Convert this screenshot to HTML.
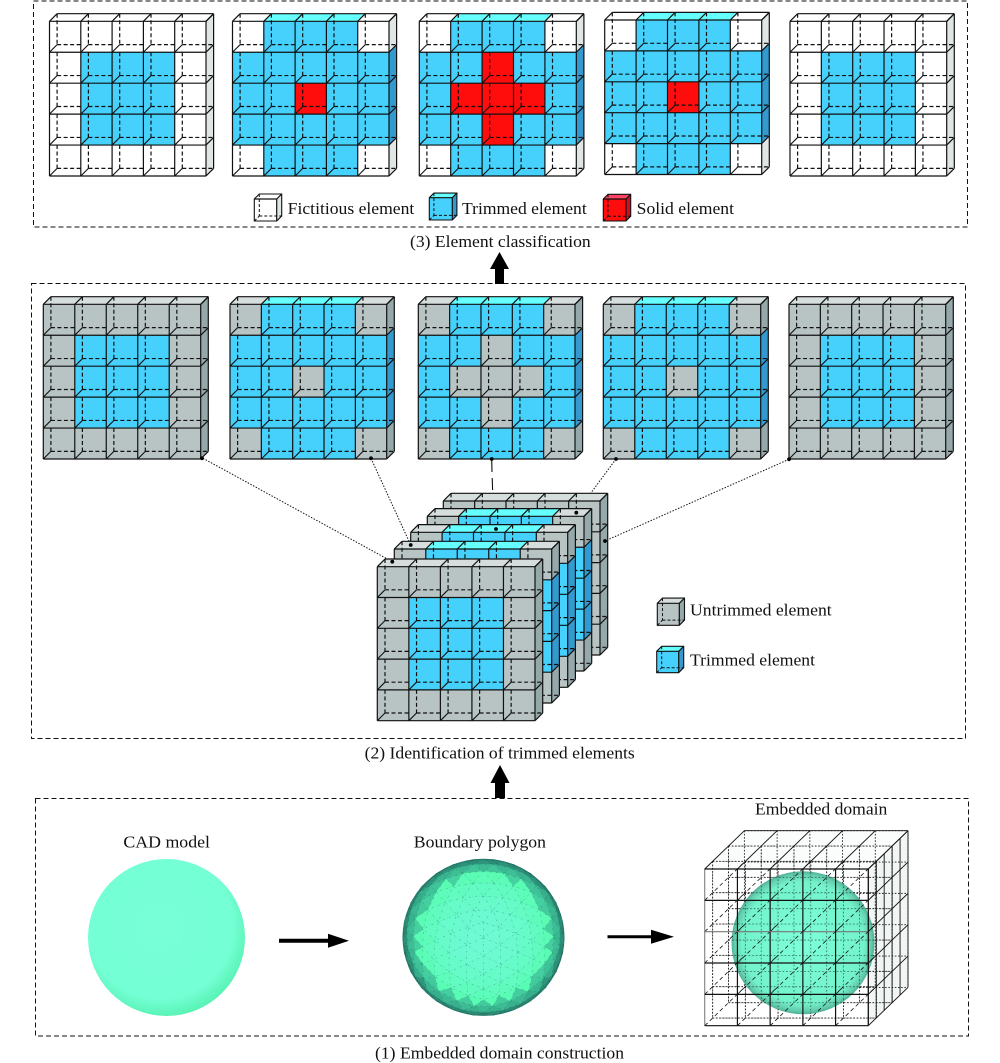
<!DOCTYPE html>
<html><head><meta charset="utf-8"><title>Diagram</title>
<style>
html,body{margin:0;padding:0;background:#fff}
svg{display:block}
text{font-family:"Liberation Serif",serif;font-size:16.5px;fill:#111}
</style></head><body>
<svg id="s" xmlns="http://www.w3.org/2000/svg" width="1000" height="1063" viewBox="0 0 1000 1063">
<defs>
<radialGradient id="cad" cx="46%" cy="43%" r="58%"><stop offset="0" stop-color="#78ffd8"/><stop offset=".8" stop-color="#74ffd4"/><stop offset="1" stop-color="#58f2b4"/></radialGradient>
<radialGradient id="emb" cx="50%" cy="50%" r="50%"><stop offset="0" stop-color="#76ffd8"/><stop offset=".85" stop-color="#6cf2c8"/><stop offset=".95" stop-color="#5ccdab"/><stop offset="1" stop-color="#47ad92"/></radialGradient>
</defs>
<rect width="1000" height="1063" fill="#fff"/>
<g fill="none" stroke="#111" stroke-width="1" stroke-dasharray="5 3">
<rect x="33.5" y="1" width="934" height="226"/>
<rect x="31.5" y="283.5" width="934" height="455"/>
<rect x="35.5" y="798.5" width="933" height="237.5"/>
</g>
<g id="grids"></g>
<g id="mesh"></g>
<ellipse cx="166.5" cy="937.5" rx="78.5" ry="78.5" fill="url(#cad)"/>
<g id="poly"></g>
<g id="embed"></g>
<g fill="#000">
<polygon points="499.5,252 509,269 504,269 504,284 495,284 495,269 490,269"/>
<polygon points="500,765 509.5,783 505,783 505,798 495,798 495,783 490.5,783"/>
<polygon points="279,938.7 328,938.7 328,933.7 349,940.7 328,947.7 328,942.7 279,942.7"/>
<polygon points="607.5,935.2 651,935.2 651,929.7 674,936.7 651,943.7 651,938.2 607.5,938.2"/>
</g>
<text x="287.7" y="214" textLength="126.6" lengthAdjust="spacingAndGlyphs">Fictitious element</text>
<text x="462" y="214" textLength="124.7" lengthAdjust="spacingAndGlyphs">Trimmed element</text>
<text x="636.7" y="214" textLength="97.3" lengthAdjust="spacingAndGlyphs">Solid element</text>
<text x="410" y="247" textLength="180.7" lengthAdjust="spacingAndGlyphs">(3) Element classification</text>
<text x="690" y="615.7" textLength="141.7" lengthAdjust="spacingAndGlyphs">Untrimmed element</text>
<text x="690" y="665.7" textLength="125" lengthAdjust="spacingAndGlyphs">Trimmed element</text>
<text x="364.6" y="758.3" textLength="270.2" lengthAdjust="spacingAndGlyphs">(2) Identification of trimmed elements</text>
<text x="123.4" y="847.3" textLength="86.6" lengthAdjust="spacingAndGlyphs">CAD model</text>
<text x="413.8" y="847.3" textLength="132.2" lengthAdjust="spacingAndGlyphs">Boundary polygon</text>
<text x="755" y="814.3" textLength="132.3" lengthAdjust="spacingAndGlyphs">Embedded domain</text>
<text x="375" y="1058.3" textLength="249" lengthAdjust="spacingAndGlyphs">(1) Embedded domain construction</text>
</svg>
<script>
(function(){
var NS="http://www.w3.org/2000/svg";
function el(p,n,a){var e=document.createElementNS(NS,n);for(var k in a)e.setAttribute(k,a[k]);p.appendChild(e);return e;}
function line(p,a,b,c,d,col,w,dash,op){var o={x1:a,y1:b,x2:c,y2:d,stroke:col||"#111","stroke-width":w||1.2};if(dash)o["stroke-dasharray"]=dash;if(op)o.opacity=op;el(p,"line",o);}
function poly(p,pts,fill){el(p,"polygon",{points:pts.map(function(q){return q[0].toFixed(1)+","+q[1].toFixed(1)}).join(" "),fill:fill});}
var C={w:{f:"#ffffff",t:"#ffffff",s:"#dfe6e5"},g:{f:"#b8c4c4",t:"#d5dedd",s:"#95a8aa"},b:{f:"#45d1fb",t:"#66ffff",s:"#3399cf"},r:{f:"#ff0d0d",t:"#ff4466",s:"#cc1122"}};
function grid(par,x0,y0,x1,y1,d,pat){
  var g=el(par,"g",{}),w=(x1-x0)/5,h=(y1-y0)/5,i,j;
  for(j=0;j<5;j++)for(i=0;i<5;i++){
    var c=C[pat[j][i]];
    var L=x0+i*w,T=y0+j*h;
    el(g,"rect",{x:L.toFixed(1),y:T.toFixed(1),width:(w+.4).toFixed(1),height:(h+.4).toFixed(1),fill:c.f});
  }
  for(i=0;i<5;i++){var L=x0+i*w;poly(g,[[L,y0],[L+d,y0-d],[L+w+d,y0-d],[L+w,y0]],C[pat[0][i]].t);}
  for(j=0;j<5;j++){var T=y0+j*h;poly(g,[[x1,T],[x1+d,T-d],[x1+d,T+h-d],[x1,T+h]],C[pat[j][4]].s);}
  for(j=0;j<5;j++)for(i=0;i<5;i++){
    var L=x0+i*w,T=y0+j*h;
    line(g,L+d,j==0?T-d:T,L+d,T+h-d,"#111",1.2,"4 2.5");
    line(g,L+d,T+h-d,i==4?L+w+d:L+w,T+h-d,"#111",1.2,"4 2.5");
    line(g,L,T+h,L+d,T+h-d,"#111",1.1);
  }
  for(i=0;i<=5;i++){var X=x0+i*w;line(g,X,y0,X,y1);line(g,X,y0,X+d,y0-d);}
  for(j=0;j<=5;j++){var Y=y0+j*h;line(g,x0,Y,x1,Y);line(g,x1,Y,x1+d,Y-d);}
  line(g,x0+d,y0-d,x1+d,y0-d);line(g,x1+d,y0-d,x1+d,y1-d);
}
function cube(par,x0,y0,x1,y1,d,k){
  var c=C[k],g=el(par,"g",{});
  poly(g,[[x0,y0],[x1,y0],[x1,y1],[x0,y1]],c.f);
  poly(g,[[x0,y0],[x0+d,y0-d],[x1+d,y0-d],[x1,y0]],c.t);
  poly(g,[[x1,y0],[x1+d,y0-d],[x1+d,y1-d],[x1,y1]],c.s);
  line(g,x0+d,y0-d,x0+d,y1-d,"#111",1,"3 2");line(g,x0+d,y1-d,x1+d,y1-d,"#111",1,"3 2");line(g,x0,y1,x0+d,y1-d,"#111",1,"3 2");
  el(g,"polygon",{points:[[x0,y0],[x0+d,y0-d],[x1+d,y0-d],[x1+d,y1-d],[x1,y1],[x0,y1]].join(" "),fill:"none",stroke:"#111","stroke-width":1.1});
  line(g,x0,y0,x1,y0);line(g,x1,y0,x1,y1);line(g,x1,y0,x1+d,y0-d);
}
var P1=["wwwww","wbbbw","wbbbw","wbbbw","wwwww"];
var P2=["wbbbw","bbbbb","bbrbb","bbbbb","wbbbw"];
var P3=["wbbbw","bbrbb","brrrb","bbrbb","wbbbw"];
function gr(p){return p.map(function(r){return r.replace(/w/g,"g").replace(/r/g,"g")});}
var G=document.getElementById("grids");
[[49.5,206],[232.5,389],[419.3,576.3],[604.7,761.7],[790,946.7]].forEach(function(x,i){
  var y=i==3?[20,174.5]:[21.3,176];
  grid(G,x[0],y[0],x[1],y[1],7.6,[P1,P2,P3,P2,P1][i]);
});
[[43.3,200.7],[230,386.7],[418.3,575],[603.3,760.7],[789,945.7]].forEach(function(x,i){
  grid(G,x[0],304.3,x[1],459,7.6,gr([P1,P2,P3,P2,P1][i]));
});
cube(G,254.3,199,276.7,221,5,"w");cube(G,429.3,197.7,452.3,220,4.6,"b");cube(G,603.3,199,626,221,4.7,"r");
cube(G,657.3,603.3,679.3,625.3,5.2,"g");cube(G,656.7,651.3,678.7,672.7,5,"b");
var M=document.getElementById("mesh");
[[203,458.3,392.3,561.7],[371,458.3,410.7,545],[616,459,576.3,512.7],[789,459.3,605,541]].forEach(function(a){line(M,a[0],a[1],a[2],a[3],"#111",1,"1.5 1.5");});
line(M,491.7,459,492,472,"#111",1.1);line(M,492.2,478,492.6,490,"#111",1.1);line(M,493.3,497,493.6,506,"#111",1.1);
[[443.3,501,600,655,1],[427.3,516.3,584,671,2],[410.7,532.3,567.7,687.3,3],[394.3,549,551.7,703,4],[377.3,566.7,535,720.7,5]].forEach(function(a){
  grid(M,a[0],a[1],a[2],a[3],7.7,gr([P1,P2,P3,P2,P1][a[4]-1]));
});
[[202,458.3],[371,458.3],[491.7,459],[616,459],[789,459.3],[392.3,561.7],[410.7,545],[496,529],[576.3,512.7],[605,541]].forEach(function(p){el(M,"circle",{cx:p[0],cy:p[1],r:1.9,fill:"#000"});});
var t=(1+Math.sqrt(5))/2;
var V=[[-1,t,0],[1,t,0],[-1,-t,0],[1,-t,0],[0,-1,t],[0,1,t],[0,-1,-t],[0,1,-t],[t,0,-1],[t,0,1],[-t,0,-1],[-t,0,1]];
var F=[[0,11,5],[0,5,1],[0,1,7],[0,7,10],[0,10,11],[1,5,9],[5,11,4],[11,10,2],[10,7,6],[7,1,8],[3,9,4],[3,4,2],[3,2,6],[3,6,8],[3,8,9],[4,9,5],[2,4,11],[6,2,10],[8,6,7],[9,8,1]];
function nrm(v){var l=Math.sqrt(v[0]*v[0]+v[1]*v[1]+v[2]*v[2]);return[v[0]/l,v[1]/l,v[2]/l];}
function rot(v){var a=.36;var x=v[0],y=v[1]*Math.cos(a)-v[2]*Math.sin(a),z=v[1]*Math.sin(a)+v[2]*Math.cos(a);return[x,y,z];}
var tris=[];
F.forEach(function(f){
  var A=nrm(V[f[0]]),B=nrm(V[f[1]]),Cc=nrm(V[f[2]]),n=5;
  function pt(i,j){var k=n-i-j;return nrm([A[0]*i+B[0]*j+Cc[0]*k,A[1]*i+B[1]*j+Cc[1]*k,A[2]*i+B[2]*j+Cc[2]*k]);}
  for(var i=0;i<n;i++)for(var j=0;j<n-i;j++){
    tris.push([pt(i,j),pt(i+1,j),pt(i,j+1)]);
    if(i+j<n-1)tris.push([pt(i+1,j),pt(i+1,j+1),pt(i,j+1)]);
  }
});
var PG=document.getElementById("poly");
el(PG,"ellipse",{cx:483.5,cy:937.3,rx:81,ry:78.6,fill:"#2a7f6c"});
function mix(a,b,t){return a.map(function(v,i){return Math.round(v+(b[i]-v)*t)});}
var items=tris.map(function(T){
  var p=T.map(rot),c=nrm([p[0][0]+p[1][0]+p[2][0],p[0][1]+p[1][1]+p[2][1],p[0][2]+p[1][2]+p[2][2]]);
  return{p:p,nz:c[2]};
}).filter(function(o){return o.nz>0}).sort(function(a,b){return a.nz-b.nz});
items.forEach(function(o){
  var z=o.nz,col;
  if(z>.57)col=mix([88,252,178],[110,250,212],(z-.57)/.43);
  else if(z>.3)col=mix([52,168,136],[70,210,162],(z-.3)/.27);
  else col=mix([32,110,95],[48,150,125],z/.3);
  var pts=o.p.map(function(q){return(483.5+q[0]*81).toFixed(1)+","+(937.3-q[1]*78.6).toFixed(1)}).join(" ");
  var rgb="rgb("+col.join(",")+")";
  el(PG,"polygon",{points:pts,fill:rgb,stroke:rgb,"stroke-width":.4});
  el(PG,"polygon",{points:pts,fill:"none",stroke:"#0b4d46","stroke-width":.5,"stroke-dasharray":"1.5 5",opacity:.5});
});
var E=document.getElementById("embed");
var fx0=704.7,fy0=869,cw=(868.3-704.7)/5,ch=(1025.7-869)/5,dx=39.7,dy=38.3;
poly(E,[[868.3,869],[908,830.7],[908,987.4],[868.3,1025.7]],"#f1f5f4");
poly(E,[[704.7,869],[744.4,830.7],[908,830.7],[868.3,869]],"#fbfcfc");
[.2,.6,1].forEach(function(k){
  var ox=dx*k,oy=-dy*k,dash="1.6 1.6",col="#222",w=.9,i;
  for(i=0;i<=5;i++){
    line(E,fx0+ox+i*cw,fy0+oy,fx0+ox+i*cw,fy0+oy+5*ch,col,w,dash);
    line(E,fx0+ox,fy0+oy+i*ch,fx0+ox+5*cw,fy0+oy+i*ch,col,w,dash);
  }
});
el(E,"circle",{cx:803,cy:942.7,r:71.5,fill:"url(#emb)",opacity:.95});
[.2,.6].forEach(function(k){
  var ox=dx*k,oy=-dy*k,i;
  for(i=0;i<=5;i++){
    line(E,fx0+ox+i*cw,fy0+oy,fx0+ox+i*cw,fy0+oy+5*ch,"#111",.8,"1.6 2",.6);
    line(E,fx0+ox,fy0+oy+i*ch,fx0+ox+5*cw,fy0+oy+i*ch,"#111",.8,"1.6 2",.6);
  }
});
var i,j;
for(i=0;i<=5;i++)for(j=0;j<=5;j++){
  if(i<5&&j>0)line(E,fx0+i*cw,fy0+j*ch,fx0+i*cw+dx,fy0+j*ch-dy,"#111",.8,"4 3");
}
for(i=0;i<=5;i++){
  line(E,fx0+i*cw,fy0,fx0+i*cw,fy0+5*ch,i==0?"#888":"#111",1.2);
  line(E,fx0,fy0+i*ch,fx0+5*cw,fy0+i*ch,i==2?"#777":"#111",1.2);
  line(E,fx0+i*cw,fy0,fx0+i*cw+dx,fy0-dy,"#111",.9);
  line(E,868.3,fy0+i*ch,868.3+dx,fy0+i*ch-dy,"#111",.9);
  line(E,868.3+i*dx/5,fy0-i*dy/5,868.3+i*dx/5,fy0+5*ch-i*dy/5,"#111",.9);
}
line(E,744.4,830.7,908,830.7,"#111",.9);
})();
</script>
</body></html>
